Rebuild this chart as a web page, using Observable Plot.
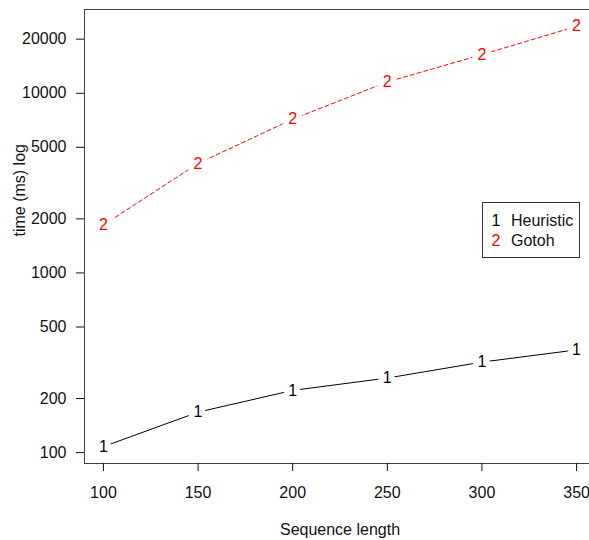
<!DOCTYPE html>
<html>
<head>
<meta charset="utf-8">
<script src="https://cdn.jsdelivr.net/npm/d3@7"></script>
<script src="https://cdn.jsdelivr.net/npm/@observablehq/plot@0.6"></script>
<style>
  html, body { margin: 0; padding: 0; background: #fff; overflow: hidden; }
  #wrap { position: relative; width: 589px; height: 540px; font-family: "Liberation Sans", Arial, sans-serif; }
  #legend { position: absolute; left: 482px; top: 202px; width: 96px; height: 54px; border: 1px solid #333; background: #fff; font-size: 16px; color: #111; }
  #legend .row { position: absolute; left: 0; height: 20px; line-height: 20px; white-space: nowrap; }
  #legend .sym { position: absolute; left: 7px; width: 12px; text-align: center; }
  #legend .lab { position: absolute; left: 28px; }
</style>
</head>
<body>
<div id="wrap"></div>
<script>
const seqLength = [100, 150, 200, 250, 300, 350];
const heuristic = [108, 168, 222, 260, 319, 373];
const gotoh = [1849, 4067, 7171, 11560, 16400, 23560];
const seriesNames = ["Heuristic", "Gotoh"];
const seriesSymbols = ["1", "2"];
const seriesColors = ["#000000", "#ff0000"];
const xTicks = [100, 150, 200, 250, 300, 350];
const yTicks = [100, 200, 500, 1000, 2000, 5000, 10000, 20000];

const rows = [];
seqLength.forEach((x, i) => {
  rows.push({x, y: heuristic[i], s: 0});
  rows.push({x, y: gotoh[i], s: 1});
});
const h = rows.filter(d => d.s === 0);
const g = rows.filter(d => d.s === 1);

const fontSize = 16;
const textColor = "#111";
const plot = Plot.plot({
  width: 589,
  height: 540,
  marginLeft: 84,
  marginRight: -6,
  marginTop: 9,
  marginBottom: 77,
  style: {fontFamily: "Liberation Sans, Arial, sans-serif", fontSize: fontSize + "px", background: "#fff", color: textColor},
  x: {domain: [90, 360], type: "linear"},
  y: {type: "log", domain: [87, 29240]},
  marks: [
    Plot.line(h, {x: "x", y: "y", stroke: seriesColors[0], strokeWidth: 1}),
    Plot.line(g, {x: "x", y: "y", stroke: seriesColors[1], strokeWidth: 1, strokeDasharray: "4,3"}),
    Plot.text(h, {x: "x", y: "y", text: () => seriesSymbols[0], fill: seriesColors[0], stroke: "white", strokeWidth: 12, fontSize}),
    Plot.text(g, {x: "x", y: "y", text: () => seriesSymbols[1], fill: seriesColors[1], stroke: "white", strokeWidth: 12, fontSize}),
    Plot.frame({stroke: "#444", strokeWidth: 1}),
    Plot.axisX({ticks: xTicks, tickSize: 8, tickPadding: 15, tickFormat: d => String(d), label: null, fontSize}),
    Plot.axisY({ticks: yTicks, tickSize: 8, tickPadding: 10, tickFormat: () => "", label: null}),
    Plot.text(yTicks, {y: d => d, frameAnchor: "left", dx: -18, textAnchor: "end", text: d => String(d), fontSize, fill: textColor}),
    Plot.text(["time (ms) log"], {frameAnchor: "left", lineAnchor: "middle", dx: -65, rotate: -90, text: d => d, fontSize, fill: textColor}),
    Plot.text(["Sequence length"], {frameAnchor: "bottom", lineAnchor: "middle", dy: 66, text: d => d, fontSize, fill: textColor})
  ]
});
const wrap = document.getElementById("wrap");
wrap.appendChild(plot);

const legend = document.createElement("div");
legend.id = "legend";
seriesNames.forEach((name, i) => {
  const row = document.createElement("div");
  row.className = "row";
  row.style.top = (8 + i * 20) + "px";
  row.innerHTML = `<span class="sym" style="color:${seriesColors[i]}">${seriesSymbols[i]}</span><span class="lab">${name}</span>`;
  legend.appendChild(row);
});
wrap.appendChild(legend);
</script>
</body>
</html>
